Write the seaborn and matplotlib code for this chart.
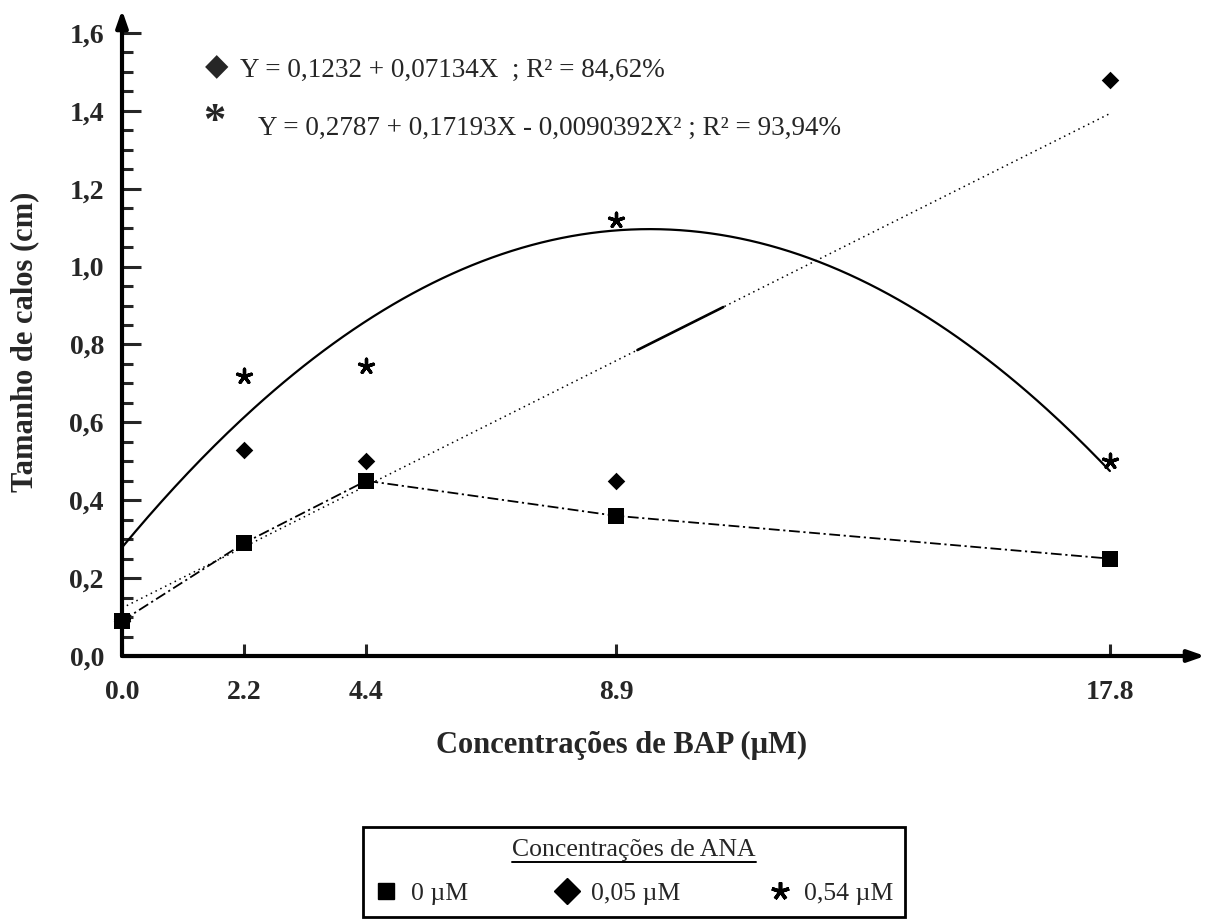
import numpy as np
import pandas as pd
import matplotlib
matplotlib.use("Agg")
import matplotlib.pyplot as plt
from matplotlib.lines import Line2D
import seaborn as sns

# BAP concentrations (µM) and callus size (cm) for each ANA level
bap = [0.0, 2.2, 4.4, 8.9, 17.8]
bap_labels = ["0.0", "2.2", "4.4", "8.9", "17.8"]
ana_0 = [0.09, 0.29, 0.45, 0.36, 0.25]
ana_005 = [0.09, 0.53, 0.50, 0.45, 1.48]
ana_054 = [0.09, 0.72, 0.745, 1.12, 0.50]

# fitted regressions
lin_coef = [0.1232, 0.07134]
quad_coef = [0.2787, 0.17193, -0.0090392]

y_ticks = [0.0, 0.2, 0.4, 0.6, 0.8, 1.0, 1.2, 1.4, 1.6]
y_tick_labels = ["0,0", "0,2", "0,4", "0,6", "0,8", "1,0", "1,2", "1,4", "1,6"]

series_labels = ["0 µM", "0,05 µM", "0,54 µM"]
eq_lin = "Y = 0,1232 + 0,07134X  ; R² = 84,62%"
eq_quad = "Y = 0,2787 + 0,17193X - 0,0090392X² ; R² = 93,94%"

sns.set_style("white")
plt.rcParams["font.family"] = ["Liberation Serif", "DejaVu Sans"]

W, H = 1212, 923
fig = plt.figure(figsize=(W / 100, H / 100), dpi=100)
ax = fig.add_axes([122 / W, (H - 656) / H, (1205 - 122) / W, (656 - 10) / H])
ax.set_xlim(0, 1083 / 55.5)
ax.set_ylim(0, 646 / 389.4)

df = pd.DataFrame({"bap": bap, "a0": ana_0, "a005": ana_005, "a054": ana_054})
xs = np.linspace(0, bap[-1], 300)
fit = pd.DataFrame({
    "x": xs,
    "lin": lin_coef[0] + lin_coef[1] * xs,
    "quad": quad_coef[0] + quad_coef[1] * xs + quad_coef[2] * xs ** 2,
})

# fitted curves
sns.lineplot(data=fit, x="x", y="quad", ax=ax, color="black", linewidth=1.6, zorder=2)
sns.lineplot(data=fit, x="x", y="lin", ax=ax, color="black", linewidth=1.1,
             linestyle=(0, (1, 2.5)), zorder=2)
# short solid stretch printed along the linear fit
solid = fit[(fit["x"] >= 9.26) & (fit["x"] <= 10.85)]
sns.lineplot(data=solid, x="x", y="lin", ax=ax, color="black", linewidth=1.9, zorder=2)
# 0 µM: points joined
sns.lineplot(data=df, x="bap", y="a0", ax=ax, color="black", linewidth=1.3,
             linestyle=(0, (6, 2, 1.2, 2)), zorder=2)

# observed points
sns.scatterplot(data=df, x="bap", y="a005", ax=ax, marker="D", s=80, color="black",
                linewidth=0, zorder=3, clip_on=False)
sns.scatterplot(data=df, x="bap", y="a054", ax=ax, marker=(5, 2, 0), s=110,
                color="black", edgecolor="black", linewidth=2.4, zorder=3, clip_on=False)
sns.scatterplot(data=df, x="bap", y="a0", ax=ax, marker="s", s=140, color="black",
                linewidth=0, zorder=4, clip_on=False)

# axes with arrowheads
for side in ["left", "bottom", "top", "right"]:
    ax.spines[side].set_visible(False)
arrow = dict(arrowstyle="-|>,head_length=1.0,head_width=0.35", lw=3, color="black",
             shrinkA=0, shrinkB=0)
ax.annotate("", xy=(0, 1), xytext=(0, 0), xycoords="axes fraction",
            textcoords="axes fraction", arrowprops=arrow, annotation_clip=False)
ax.annotate("", xy=(1, 0), xytext=(0, 0), xycoords="axes fraction",
            textcoords="axes fraction", arrowprops=arrow, annotation_clip=False)

ax.set_yticks(y_ticks)
ax.set_yticklabels(y_tick_labels)
ax.set_yticks(np.arange(0, 1.6001, 0.05), minor=True)
ax.set_xticks(bap)
ax.set_xticklabels(bap_labels)
ax.tick_params(axis="y", which="major", direction="in", length=14, width=2.2,
               pad=13, labelsize=20, left=True)
ax.tick_params(axis="y", which="minor", direction="in", length=8, width=2.2, left=True)
ax.tick_params(axis="x", which="major", direction="in", length=9, width=2.2,
               pad=17, labelsize=20, bottom=True)
for t in ax.get_xticklabels() + ax.get_yticklabels():
    t.set_fontweight("bold")

ax.set_xlabel("Concentrações de BAP (µM)", fontsize=22, fontweight="bold",
              ha="center", va="center")
ax.xaxis.set_label_coords((622 - 122) / 1083, -(745 - 656) / 646)
ax.set_ylabel("Tamanho de calos (cm)", fontsize=22, fontweight="bold",
              ha="center", va="center")
ax.yaxis.set_label_coords(-97 / 1083, (656 - 342) / 646)

# regression equations
fig.text(217 / W, 1 - 67 / H, "◆", family="DejaVu Sans", fontsize=22,
         ha="center", va="center")
fig.text(240 / W, 1 - 70 / H, eq_lin, fontsize=19.5, ha="left", va="center")
fig.text(214 / W, 1 - 122 / H, "*", fontsize=32, fontweight="bold",
         ha="center", va="center")
fig.text(258 / W, 1 - 128 / H, eq_quad, fontsize=19.5, ha="left", va="center")

# legend
handles = [
    Line2D([], [], marker="s", color="black", linestyle="none", markersize=12),
    Line2D([], [], marker="D", color="black", linestyle="none", markersize=13),
    Line2D([], [], marker=(5, 2, 0), color="black", markeredgewidth=2.6,
           linestyle="none", markersize=13),
]
leg = fig.legend(handles, series_labels, ncol=3, loc="lower left",
                 bbox_to_anchor=(363 / W, (H - 917) / H, 542 / W, 95 / H),
                 mode="expand", title="Concentrações de ANA", fontsize=18.5,
                 title_fontsize=18.5, frameon=True, fancybox=False, edgecolor="black",
                 handlelength=0.9, handletextpad=0.5, borderpad=0.45,
                 labelspacing=0.85, borderaxespad=0)
leg.get_frame().set_linewidth(2)
leg.get_frame().set_alpha(1)

fig.canvas.draw()
tb = leg.get_title().get_window_extent()
fig.add_artist(Line2D([tb.x0 / W, tb.x1 / W], [(tb.y0 - 1) / H, (tb.y0 - 1) / H],
                      color="black", linewidth=1.4, transform=fig.transFigure,
                      zorder=10))

fig.savefig("out.png", dpi=100)
